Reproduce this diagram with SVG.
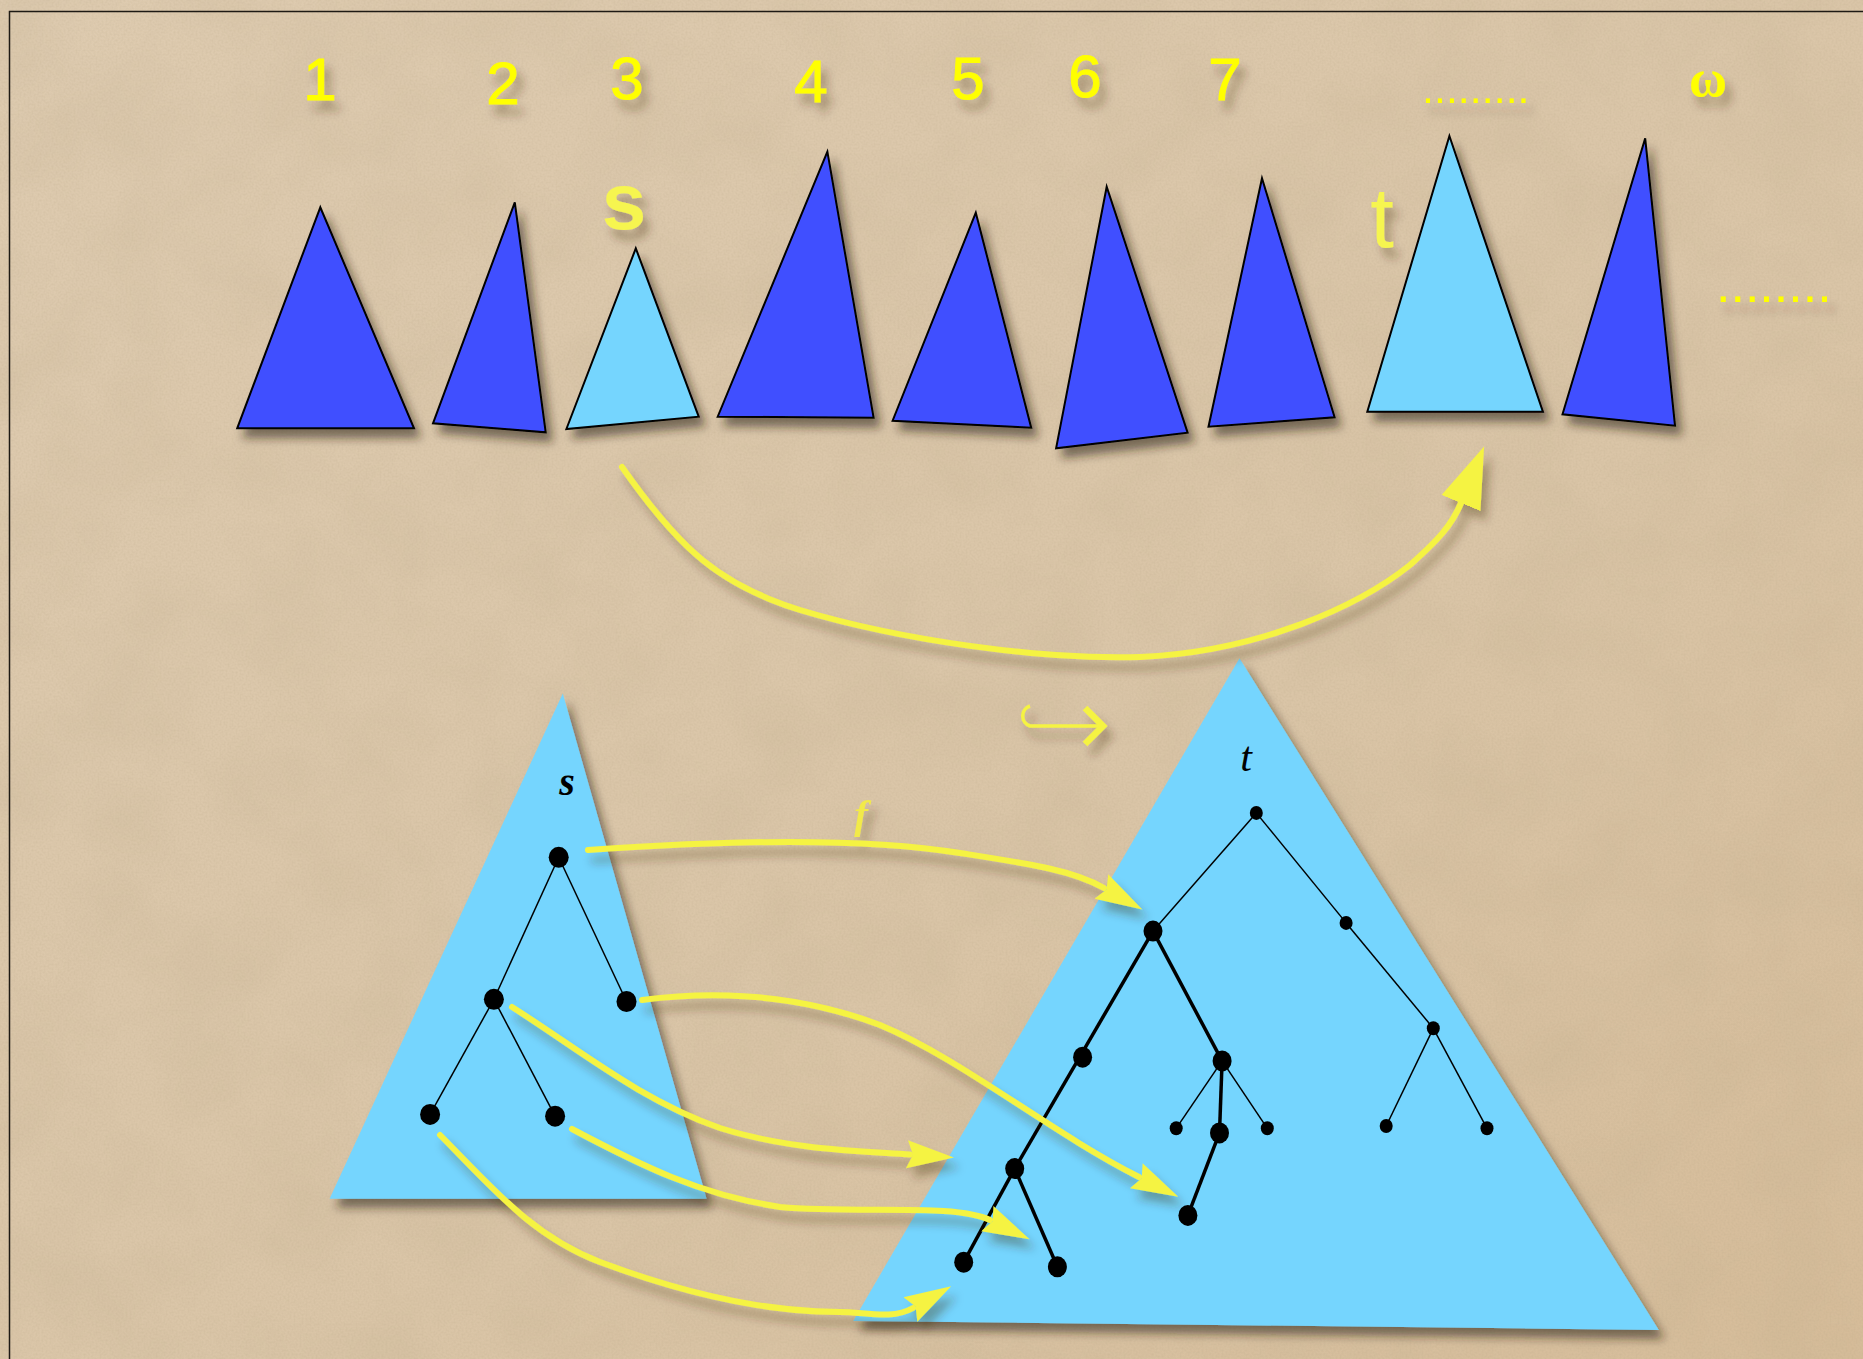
<svg xmlns="http://www.w3.org/2000/svg" width="1863" height="1359" viewBox="0 0 1863 1359">
<defs>
  <linearGradient id="bg" x1="0" y1="0" x2="1" y2="1">
    <stop offset="0" stop-color="#decbb0"/>
    <stop offset="0.6" stop-color="#dac5a7"/>
    <stop offset="1" stop-color="#d6bc99"/>
  </linearGradient>
  <filter id="grain" x="0" y="0" width="100%" height="100%">
    <feTurbulence type="fractalNoise" baseFrequency="0.5" numOctaves="2" seed="3" result="n"/>
    <feColorMatrix in="n" type="matrix" values="0 0 0 0 0.45  0 0 0 0 0.36  0 0 0 0 0.22  0.35 0 0 0 -0.12"/>
  </filter>
  <filter id="blotch" x="0" y="0" width="100%" height="100%">
    <feTurbulence type="fractalNoise" baseFrequency="0.012" numOctaves="3" seed="11" result="n"/>
    <feColorMatrix in="n" type="matrix" values="0 0 0 0 0.5  0 0 0 0 0.4  0 0 0 0 0.25  0.3 0 0 0 -0.1"/>
  </filter>
  <filter id="sh" x="-20%" y="-20%" width="150%" height="150%">
    <feDropShadow dx="6" dy="9" stdDeviation="5" flood-color="#2a1c08" flood-opacity="0.55"/>
  </filter>
  <filter id="tsh" x="-50%" y="-50%" width="200%" height="200%">
    <feDropShadow dx="6" dy="10" stdDeviation="5" flood-color="#3a2a10" flood-opacity="0.35"/>
  </filter>
  <marker id="ahBig" markerUnits="userSpaceOnUse" viewBox="0 -22 62 44" markerWidth="62" markerHeight="44" refX="0" refY="0" orient="auto">
    <path d="M0,-21 L61,0 L0,21 Z" fill="#f5f342"/>
  </marker>
  <marker id="ah" markerUnits="userSpaceOnUse" viewBox="0 -15 48 30" markerWidth="48" markerHeight="30" refX="3" refY="0" orient="auto">
    <path d="M0,-14 L47,0 L0,14 L6,0 Z" fill="#f5f342"/>
  </marker>
  <style>
    .dark{fill:#4050ff;stroke:#000;stroke-width:2;stroke-linejoin:miter}
    .light{fill:#75d5fe;stroke:#000;stroke-width:2}
    .big{fill:#75d5fe}
    .num{font-family:"Liberation Sans",Arial,sans-serif;font-size:60px;fill:#ffff00;stroke:#ffff00;stroke-width:1;text-anchor:middle}
    .ylab{font-family:"Liberation Sans",Arial,sans-serif;fill:#f6f550;text-anchor:middle}
    .dots{font-family:"Liberation Sans",Arial,sans-serif;fill:#ffff00}
    .conn{fill:none;stroke:#f5f342;stroke-width:6;stroke-linecap:round}
    .e{stroke:#000;stroke-width:1.5;fill:none}
    .E{stroke:#000;stroke-width:3.5;fill:none}
    .n{fill:#000}
    .math{font-family:"Liberation Serif","Times New Roman",serif;font-style:italic;text-anchor:middle}
  </style>
</defs>

<rect width="1863" height="1359" fill="url(#bg)"/>
<rect width="1863" height="1359" filter="url(#blotch)"/>
<rect width="1863" height="1359" filter="url(#grain)"/>
<rect x="9.5" y="11.5" width="2000" height="2000" fill="none" stroke="#1e1a14" stroke-width="1.5"/>

<!-- labels top -->
<g id="labels" filter="url(#tsh)">
  <text class="num" x="320" y="100">1</text>
  <text class="num" x="503" y="104">2</text>
  <text class="num" x="627" y="99">3</text>
  <text class="num" x="811" y="102">4</text>
  <text class="num" x="968" y="99">5</text>
  <text class="num" x="1085" y="97">6</text>
  <text class="num" x="1225" y="100">7</text>
  <text class="dots" x="1422" y="102.5" font-size="43">.........</text>
  <text x="1708" y="96" font-family="Liberation Serif,serif" font-size="52" font-weight="bold" fill="#ffff00" text-anchor="middle">ω</text>
  <text class="dots" x="1716" y="302" font-size="52">........</text>
  <text class="ylab" x="624" y="229" font-size="80" font-weight="bold">s</text>
  <text class="ylab" x="1382" y="247" font-size="85">t</text>
</g>

<!-- top row of trees -->
<g id="tree1" filter="url(#sh)"><polygon class="dark" points="320.3,207.3 237.2,428.3 414,428.3"/></g>
<g id="tree2" filter="url(#sh)"><polygon class="dark" points="514.8,202.3 433,423.3 545.7,432.3"/></g>
<g id="tree3-s" filter="url(#sh)"><polygon class="light" points="635.8,248.3 566.4,429 698.7,416.7"/></g>
<g id="tree4" filter="url(#sh)"><polygon class="dark" points="827.4,151.7 717.7,416.7 873.6,417.7"/></g>
<g id="tree5" filter="url(#sh)"><polygon class="dark" points="975.8,212.7 892.6,420.7 1031.2,427.7"/></g>
<g id="tree6" filter="url(#sh)"><polygon class="dark" points="1106.7,186.7 1056.1,448.3 1187.6,432.7"/></g>
<g id="tree7" filter="url(#sh)"><polygon class="dark" points="1262,178.3 1208.5,426.7 1334.6,417.3"/></g>
<g id="tree-t" filter="url(#sh)"><polygon class="light" points="1449.4,136 1367.3,411.7 1542.9,411.7"/></g>
<g id="tree9" filter="url(#sh)"><polygon class="dark" points="1645.2,138.3 1562.5,414.3 1675,425.7"/></g>

<!-- big s tree -->
<g id="big-s">
  <polygon class="big" filter="url(#sh)" points="562.8,693.5 329.6,1198.8 706.6,1198.8"/>
  <text class="math" x="567" y="795" font-size="40" font-weight="bold">s</text>
  <g id="s-edges">
    <line class="e" x1="558.7" y1="857.3" x2="493.9" y2="999.3"/>
    <line class="e" x1="558.7" y1="857.3" x2="626.5" y2="1001.5"/>
    <line class="e" x1="493.9" y1="999.3" x2="430.1" y2="1114.4"/>
    <line class="e" x1="493.9" y1="999.3" x2="555.1" y2="1116.2"/>
  </g>
  <g id="s-nodes">
    <ellipse class="n" cx="558.7" cy="857.3" rx="10" ry="10.5"/>
    <ellipse class="n" cx="493.9" cy="999.3" rx="10" ry="10.5"/>
    <ellipse class="n" cx="626.5" cy="1001.5" rx="10" ry="10.5"/>
    <ellipse class="n" cx="430.1" cy="1114.4" rx="10" ry="10.5"/>
    <ellipse class="n" cx="555.1" cy="1116.2" rx="10" ry="10.5"/>
  </g>
</g>

<!-- big t tree -->
<g id="big-t">
  <polygon class="big" filter="url(#sh)" points="1239.5,658.3 853.2,1320.9 1658.8,1330"/>
  <text class="math" x="1246" y="771" font-size="42">t</text>
  <g id="t-edges">
    <line class="e" x1="1256.3" y1="812.9" x2="1153" y2="931.1"/>
    <line class="e" x1="1256.3" y1="812.9" x2="1346.1" y2="922.9"/>
    <line class="E" x1="1153" y1="931.1" x2="1014.7" y2="1168.6"/>
    <line class="E" x1="1153" y1="931.1" x2="1222.1" y2="1060.9"/>
    <line class="E" x1="1014.7" y1="1168.6" x2="963.7" y2="1262.2"/>
    <line class="E" x1="1014.7" y1="1168.6" x2="1057.4" y2="1266.8"/>
    <line class="e" x1="1222.1" y1="1060.9" x2="1176.2" y2="1128.3"/>
    <line class="E" x1="1222.1" y1="1060.9" x2="1219.5" y2="1132.9"/>
    <line class="e" x1="1222.1" y1="1060.9" x2="1267.3" y2="1128.3"/>
    <line class="E" x1="1219.5" y1="1132.9" x2="1187.9" y2="1215.4"/>
    <line class="e" x1="1346.1" y1="922.9" x2="1433.3" y2="1028.3"/>
    <line class="e" x1="1433.3" y1="1028.3" x2="1386.2" y2="1126"/>
    <line class="e" x1="1433.3" y1="1028.3" x2="1487" y2="1128.3"/>
  </g>
  <g id="t-nodes">
    <ellipse class="n" cx="1256.3" cy="812.9" rx="6.5" ry="7"/>
    <ellipse class="n" cx="1153" cy="931.1" rx="9.5" ry="10.5"/>
    <ellipse class="n" cx="1346.1" cy="922.9" rx="6.5" ry="7"/>
    <ellipse class="n" cx="1082.6" cy="1057.2" rx="9.5" ry="10.5"/>
    <ellipse class="n" cx="1222.1" cy="1060.9" rx="9.5" ry="10.5"/>
    <ellipse class="n" cx="1014.7" cy="1168.6" rx="9.5" ry="10.5"/>
    <ellipse class="n" cx="963.7" cy="1262.2" rx="9.5" ry="10.5"/>
    <ellipse class="n" cx="1057.4" cy="1266.8" rx="9.5" ry="10.5"/>
    <ellipse class="n" cx="1176.2" cy="1128.3" rx="6.5" ry="7"/>
    <ellipse class="n" cx="1219.5" cy="1132.9" rx="9.5" ry="10.5"/>
    <ellipse class="n" cx="1267.3" cy="1128.3" rx="6.5" ry="7"/>
    <ellipse class="n" cx="1187.9" cy="1215.4" rx="9.5" ry="10.5"/>
    <ellipse class="n" cx="1433.3" cy="1028.3" rx="6.5" ry="7"/>
    <ellipse class="n" cx="1386.2" cy="1126" rx="6.5" ry="7"/>
    <ellipse class="n" cx="1487" cy="1128.3" rx="6.5" ry="7"/>
  </g>
</g>

<!-- connectors -->
<g id="connectors" filter="url(#tsh)">
  <path class="conn" marker-end="url(#ahBig)" d="M622,467 C680,550 720,585 800,610 C900,640 1040,660 1140,657 C1260,652 1360,605 1410,565 C1438,540 1452,525 1461,503"/>
  <path class="conn" marker-end="url(#ah)" d="M588,850 C700,842 850,835 960,853 C1030,864 1072,870 1104,888"/>
  <path class="conn" marker-end="url(#ah)" d="M642,1000 C720,990 800,995 880,1025 C960,1058 1050,1132 1139,1177"/>
  <path class="conn" marker-end="url(#ah)" d="M512,1007 C580,1050 640,1100 720,1128 C790,1150 860,1151 910,1154.5"/>
  <path class="conn" marker-end="url(#ah)" d="M572,1129 C640,1165 700,1195 780,1207 C860,1214 955,1203 990,1220"/>
  <path class="conn" marker-end="url(#ah)" d="M440,1135 C490,1185 530,1235 600,1262 C680,1292 760,1312 840,1312 C865,1312 892,1320 913,1308"/>
  <text x="861" y="828" font-family="Liberation Serif,serif" font-style="italic" font-weight="bold" font-size="41" fill="#f2ea48" text-anchor="middle">f</text>
</g>
<g id="hook-arrow" filter="url(#tsh)" fill="none" stroke="#f5f342">
  <path d="M1030,706 A10.5,10.5 0 0 0 1030,726 L1102,726" stroke-width="3.5"/>
  <path d="M1085,708 L1103,726 L1085,744" stroke-width="6.5"/>
</g>
</svg>
